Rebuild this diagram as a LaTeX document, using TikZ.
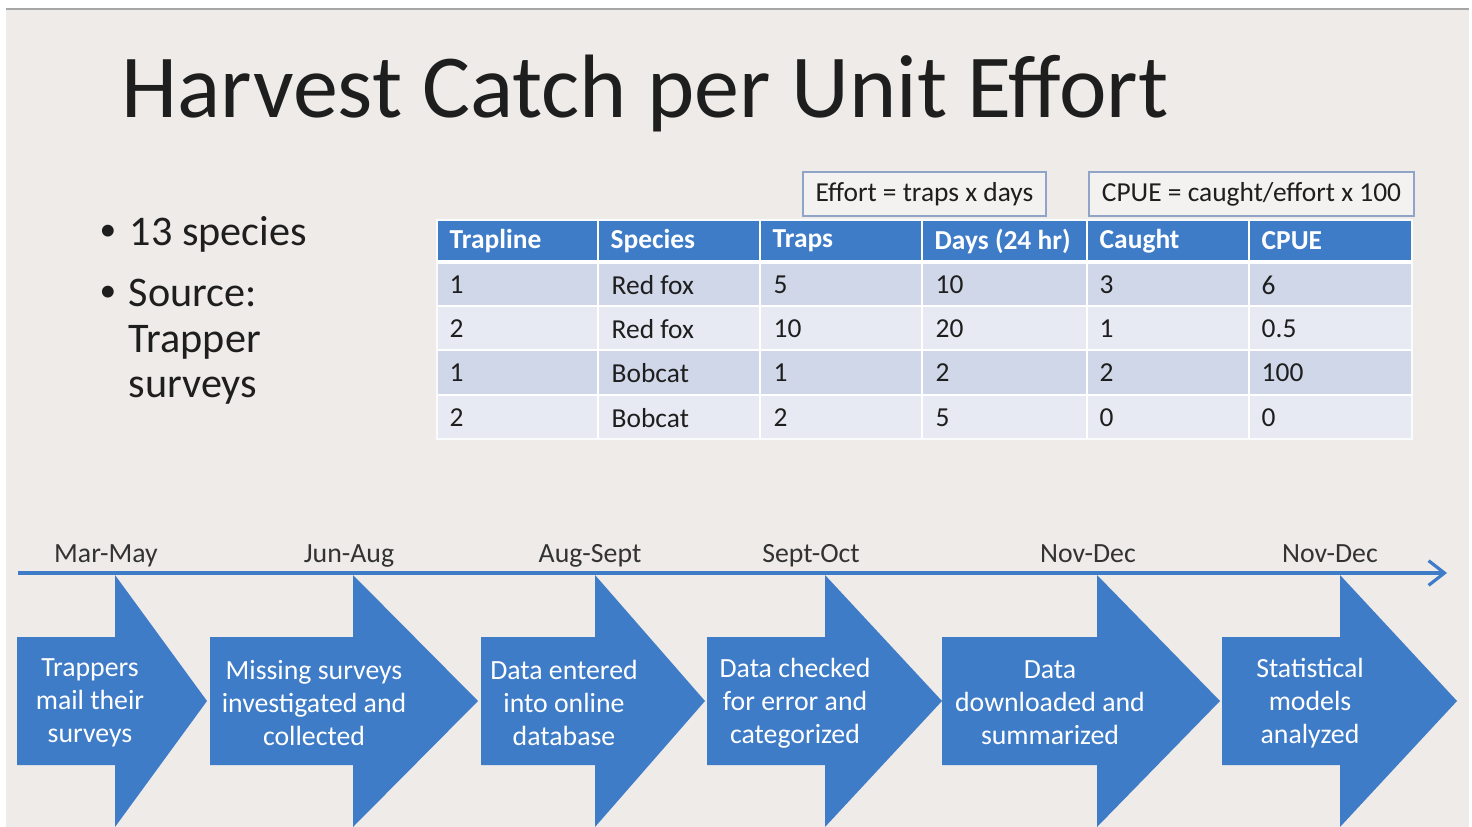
\documentclass[tikz,border=0pt]{standalone}
\usepackage{fontspec}
\setmainfont{Carlito}
\usetikzlibrary{arrows.meta}
\definecolor{slidebg}{HTML}{EEEBE8}
\definecolor{accent}{HTML}{3F7CC8}
\definecolor{rowA}{HTML}{CFD7E9}
\definecolor{rowB}{HTML}{E7EAF2}
\definecolor{boxborder}{HTML}{8FA4C6}
\definecolor{boxfill}{HTML}{F3F2F0}
\definecolor{ink}{HTML}{1E1E1E}
\definecolor{labelink}{HTML}{333333}
\newcommand\procarrow[3]{%
  \fill[accent] (#1,637) -- (#2,637) -- (#2,575) -- (#3,701) -- (#2,827) -- (#2,765) -- (#1,765) -- cycle;}
\begin{document}
\begin{tikzpicture}[x=0.01cm,y=-0.01cm,
  titletext/.style={font=\fontsize{25.6}{31}\selectfont, text=ink, anchor=base west, inner sep=0},
  bullettext/.style={font=\fontsize{12}{14.4}\selectfont, text=ink, anchor=base west, inner sep=0},
  bulletmark/.style={font=\fontsize{9.5}{11}\selectfont, text=ink, anchor=center, inner sep=0},
  cell/.style={font=\fontsize{7.8}{9.4}\selectfont, text=ink, anchor=west, inner sep=0},
  headcell/.style={cell, text=white, font=\fontsize{7.8}{9.4}\selectfont\bfseries},
  formulabox/.style={draw=boxborder, fill=boxfill, line width=0.6pt, font=\fontsize{7.8}{9.4}\selectfont, text=ink, inner sep=0, minimum height=0.44cm},
  steptext/.style={font=\fontsize{7.9}{9.4}\selectfont, text=white, align=center, inner sep=0},
  datelabel/.style={font=\fontsize{7.9}{9.4}\selectfont, text=labelink, anchor=base, inner sep=0},
  timeline/.style={draw=accent, line width=0.9pt, -{Straight Barb[length=4.5pt,width=7pt,line width=0.9pt]}}
]
\useasboundingbox (0,0) rectangle (1472,827);
\fill[white] (0,0) rectangle (1472,827);
\fill[slidebg] (6,9) rectangle (1469,827);
\draw[gray!70, line width=0.6pt] (6,9) -- (1469,9);

% title
\node[titletext] (title) at (121,117) {Harvest Catch per Unit Effort};

% bullets
\node[bulletmark] (bul1) at (108,233) {•};
\node[bullettext] (txt1) at (129,245) {13 species};
\node[bulletmark] (bul2) at (108,294) {•};
\node[bullettext] (txt2) at (128,306) {Source:};
\node[bullettext] (txt3) at (128,352) {Trapper};
\node[bullettext] (txt4) at (128,397) {surveys};

% formula boxes
\node[formulabox, minimum width=2.43cm] (effort) at (924.5,194) {Effort = traps x days};
\node[formulabox, minimum width=3.25cm] (cpue) at (1251.5,194) {CPUE = caught/effort x 100};

% table
\fill[accent] (437,220) rectangle (1412,262);
\fill[rowA] (437,262) rectangle (1412,306);
\fill[rowB] (437,306) rectangle (1412,350);
\fill[rowA] (437,350) rectangle (1412,395);
\fill[rowB] (437,395) rectangle (1412,439);
\foreach \x in {598,760,922,1087,1249} \draw[white, line width=0.5pt] (\x,220) -- (\x,439);
\foreach \y in {306,350,395} \draw[white, line width=0.5pt] (437,\y) -- (1412,\y);
\draw[white, line width=1pt] (437,262) -- (1412,262);
\draw[white!80!rowB, line width=0.6pt] (437,220) rectangle (1412,439);

\foreach \t [count=\j] in {Trapline,Species,Traps,Days (24 hr),Caught,CPUE}{
  \pgfmathsetmacro\cx{{437,598,760,922,1087,1249}[\j-1]+12}
  \node[headcell] (h\j) at (\cx,241) {\t};
}
\foreach \a/\b/\c/\d/\e/\f [count=\i] in {1/Red fox/5/10/3/6, 2/Red fox/10/20/1/0.5, 1/Bobcat/1/2/2/100, 2/Bobcat/2/5/0/0}{
  \pgfmathsetmacro\cy{{285,329,373,418}[\i-1]}
  \node[cell] (r\i c1) at (449,\cy) {\a};
  \node[cell] (r\i c2) at (611,\cy) {\b};
  \node[cell] (r\i c3) at (773,\cy) {\c};
  \node[cell] (r\i c4) at (935,\cy) {\d};
  \node[cell] (r\i c5) at (1099,\cy) {\e};
  \node[cell] (r\i c6) at (1261,\cy) {\f};
}

% timeline
\coordinate (tstart) at (18,573);
\coordinate (tend) at (1447,573);
\draw[timeline] (tstart) -- (tend);
\node[datelabel] (d1) at (106,562) {Mar-May};
\node[datelabel] (d2) at (349,562) {Jun-Aug};
\node[datelabel] (d3) at (590,562) {Aug-Sept};
\node[datelabel] (d4) at (811,562) {Sept-Oct};
\node[datelabel] (d5) at (1088,562) {Nov-Dec};
\node[datelabel] (d6) at (1330,562) {Nov-Dec};

% process arrows
\procarrow{17}{115}{207}
\procarrow{210}{353}{478}
\procarrow{481}{595}{705}
\procarrow{707}{825}{942}
\procarrow{942}{1097}{1220}
\procarrow{1222}{1340}{1457}

\node[steptext] (s1) at (90,703) {Trappers\\mail their\\surveys};
\node[steptext] (s2) at (314,703) {Missing surveys\\investigated and\\collected};
\node[steptext] (s3) at (564,703) {Data entered\\into online\\database};
\node[steptext] (s4) at (795,703) {Data checked\\for error and\\categorized};
\node[steptext] (s5) at (1050,703) {Data\\downloaded and\\summarized};
\node[steptext] (s6) at (1310,703) {Statistical\\models\\analyzed};
\end{tikzpicture}
\end{document}
